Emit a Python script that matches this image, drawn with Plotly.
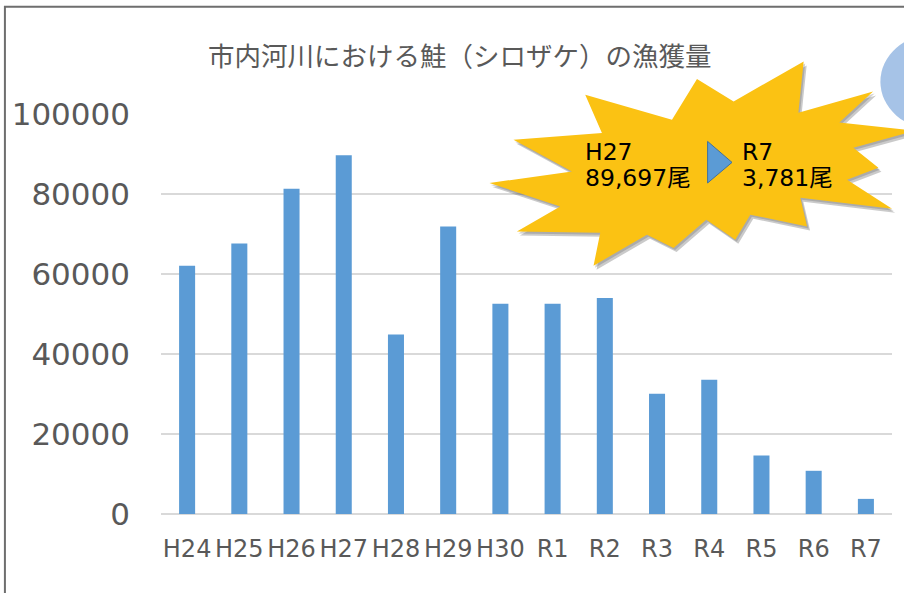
import plotly.graph_objects as go

years = ["H24", "H25", "H26", "H27", "H28", "H29", "H30", "R1", "R2", "R3", "R4", "R5", "R6", "R7"]
catch = [62050, 67650, 81300, 89697, 44900, 71900, 52550, 52550, 54000, 30050, 33550, 14650, 10800, 3781]
y_ticks = [0, 20000, 40000, 60000, 80000, 100000]

title_text = "市内河川における鮭（シロザケ）の漁獲量"
from_label, from_value = "H27", "89,697尾"
to_label, to_value = "R7", "3,781尾"

W, H = 904, 593
L, R, T, B = 161, 12.4, 114.3, 78.7
PW, PH = W - L - R, H - T - B


def px(x):
    return (x - L) / PW


def py(y):
    return (H - B - y) / PH


def path(points, dx=0.0, dy=0.0):
    s = "M " + " L ".join(f"{px(x + dx):.5f},{py(y + dy):.5f}" for x, y in points)
    return s + " Z"


star = [(585, 95), (671.7, 120), (696.7, 79.3), (733.3, 101.7), (803.3, 61.7), (798, 113),
        (872.7, 91.7), (839, 122.7), (915, 131), (853, 148), (878, 168), (846.7, 180),
        (891.7, 209), (800, 198), (806.7, 226.7), (750, 215), (735, 240), (706, 220),
        (673.3, 248.3), (646.7, 235), (593.3, 266), (600, 233), (516.7, 231.7), (560, 206.7),
        (489.3, 183.3), (571.7, 171.7), (513.3, 140), (601.7, 133.3)]
tri = [(707.3, 141.7), (707.3, 183.3), (731.7, 162.7)]

fig = go.Figure(go.Bar(x=years, y=catch, marker=dict(color="#5B9BD5", line=dict(width=0)),
                       width=0.307))

shapes = [
    # outer frame
    dict(type="rect", xref="paper", yref="paper", x0=px(5), y0=py(7), x1=px(920), y1=py(610),
         line=dict(color="#6E6E6E", width=2), fillcolor="rgba(0,0,0,0)", layer="below"),
    # blue blob top right
    dict(type="circle", xref="paper", yref="paper", x0=px(880), y0=py(34), x1=px(990), y1=py(130),
         line=dict(width=0), fillcolor="#A6C3E7", layer="above"),
    # starburst shadow
    dict(type="path", xref="paper", yref="paper", path=path(star, 3, 4),
         fillcolor="rgba(80,80,80,0.30)", line=dict(width=0), layer="above"),
    dict(type="path", xref="paper", yref="paper", path=path(star, 1.5, 2),
         fillcolor="rgba(80,80,80,0.25)", line=dict(width=0), layer="above"),
    # starburst
    dict(type="path", xref="paper", yref="paper", path=path(star),
         fillcolor="#FBC213", line=dict(width=0), layer="above"),
    # arrow triangle
    dict(type="path", xref="paper", yref="paper", path=path(tri),
         fillcolor="#5B9BD5", line=dict(color="#41719C", width=1), layer="above"),
]

txt_font = dict(family="DejaVu Sans, Noto Sans CJK JP", size=23.5, color="#000000")
annotations = [
    dict(text=title_text, xref="paper", yref="paper", x=px(460), y=py(55), showarrow=False,
         xanchor="center", yanchor="middle",
         font=dict(family="Noto Sans CJK JP", size=26.5, color="#595959")),
    dict(text=from_label, xref="paper", yref="paper", x=px(583), y=py(152), showarrow=False,
         xanchor="left", yanchor="middle", font=txt_font),
    dict(text=from_value, xref="paper", yref="paper", x=px(583), y=py(178.5), showarrow=False,
         xanchor="left", yanchor="middle", font=txt_font),
    dict(text=to_label, xref="paper", yref="paper", x=px(740), y=py(152), showarrow=False,
         xanchor="left", yanchor="middle", font=txt_font),
    dict(text=to_value, xref="paper", yref="paper", x=px(740), y=py(178.5), showarrow=False,
         xanchor="left", yanchor="middle", font=txt_font),
]

fig.update_layout(
    width=W, height=H, autosize=False,
    margin=dict(l=L, r=R, t=T, b=B, pad=0),
    paper_bgcolor="white", plot_bgcolor="white",
    showlegend=False,
    shapes=shapes, annotations=annotations,
    xaxis=dict(type="category", showgrid=False, zeroline=False, showline=False, ticks="",
               tickfont=dict(family="DejaVu Sans", size=24, color="#595959"),
               ticklabelstandoff=18, fixedrange=True),
    yaxis=dict(range=[0, 100000], tickvals=y_ticks, ticktext=[str(v) for v in y_ticks],
               showgrid=True, gridcolor="#D9D9D9", gridwidth=1.5,
               zeroline=True, zerolinecolor="#D9D9D9", zerolinewidth=2,
               showline=False, ticks="",
               tickfont=dict(family="DejaVu Sans", size=31, color="#595959"),
               ticklabelstandoff=30, fixedrange=True),
)

fig.write_html("out.html", config={"displayModeBar": False},
               post_script="document.body.style.margin='0';document.body.style.overflow='hidden';")
